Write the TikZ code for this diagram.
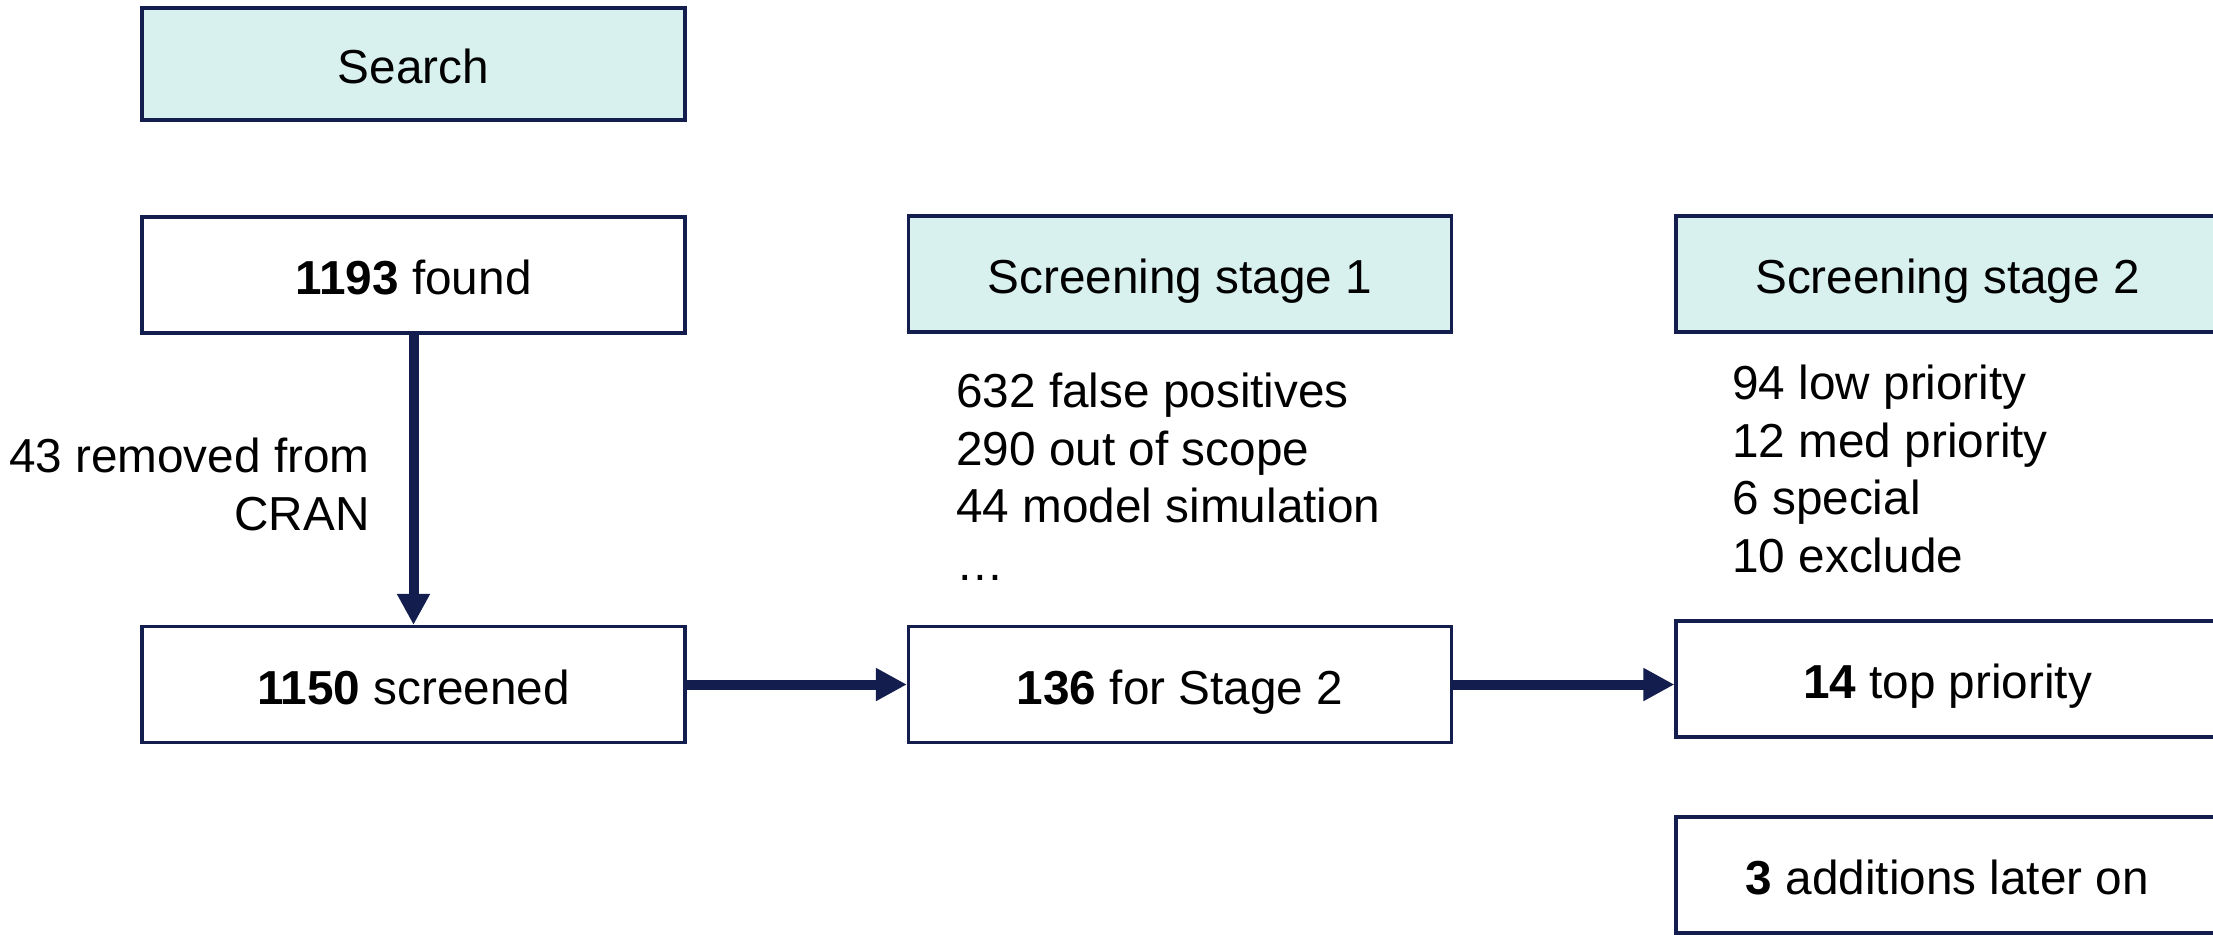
\documentclass[tikz,border=0pt]{standalone}
\usepackage{fontspec}
\setmainfont{Liberation Sans}
\usetikzlibrary{arrows.meta}
\definecolor{navy}{RGB}{20,30,78}
\definecolor{paleteal}{RGB}{216,241,238}

\begin{document}
\begin{tikzpicture}[x=0.5pt,y=-0.5pt,
  box/.style={draw=navy, line width=1.6pt, minimum width=271.5pt, minimum height=58pt,
    inner sep=0pt, text height=23.1pt, text depth=3.56pt,
    font=\fontsize{23.85}{28.5}\selectfont, text=black},
  headbox/.style={box, fill=paleteal},
  flow/.style={draw=navy, line width=5pt, -{Triangle[length=15.5pt,width=15.5pt]}},
  note/.style={font=\fontsize{23.85}{28.7}\selectfont, inner sep=0pt, text=black}
]
\useasboundingbox (0,0) rectangle (2213,934);
\clip (0,0) rectangle (2213,934);

% boxes
\node[headbox, minimum height=56pt] (search) at (413.5,64) {Search};
\node[box] (found) at (413.5,275) {\textbf{1193} found};
\node[box] (screened) at (413.5,684.5) {\textbf{1150} screened};
\node[headbox] (stage1) at (1180,274) {Screening stage 1};
\node[box] (forstage2) at (1180,684.5) {\textbf{136} for Stage 2};
\node[headbox] (stage2) at (1947.5,274) {Screening stage 2};
\node[box] (top) at (1947.5,679) {\textbf{14} top priority};
\node[box] (later) at (1947.5,875) {\textbf{3} additions later on};

% connectors
\draw[flow] (found) -- (screened);
\draw[flow] (screened.east) -- (forstage2.west);
\draw[flow] (forstage2.east) -- (forstage2.east -| top.west);

% annotations (anchored at the baseline of their last line)
\node[note, anchor=base east, align=right]
  (removed) at (370,530) {43 removed from\\CRAN};
\node[note, anchor=base west, align=left] (s1list) at (956,580)
  {632 false positives\\290 out of scope\\44 model simulation\\…};
\node[note, anchor=base west, align=left, font=\fontsize{23.85}{28.8}\selectfont]
  (s2list) at (1732,572.5)
  {94 low priority\\12 med priority\\6 special\\10 exclude};
\end{tikzpicture}
\end{document}
